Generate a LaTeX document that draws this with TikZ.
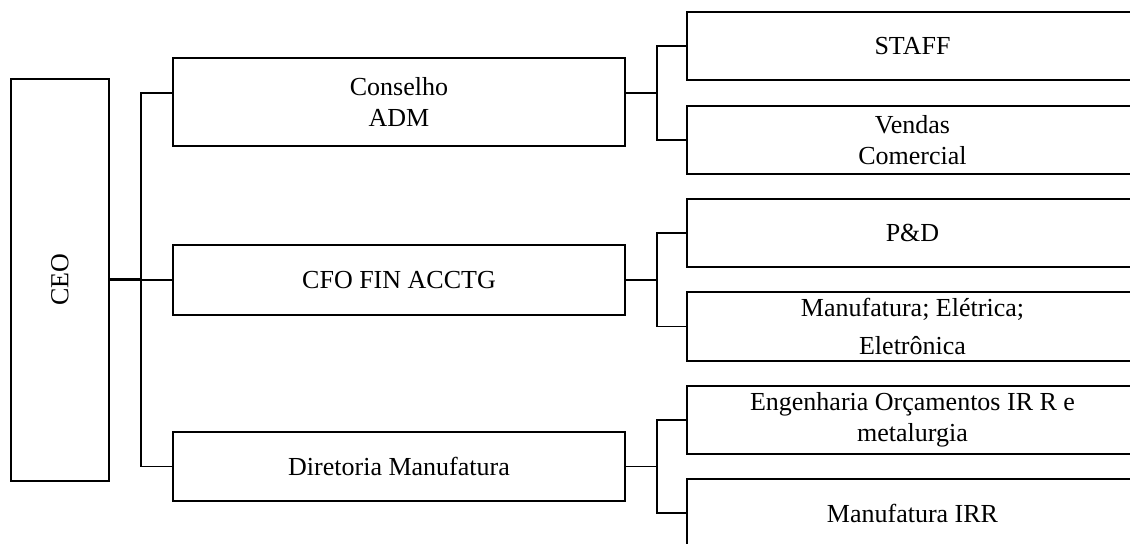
\documentclass[tikz,border=0pt]{standalone}
\usepackage{fontspec}
\setmainfont{Liberation Serif}
\usetikzlibrary{positioning, calc}
\tikzset{
  caixa/.style = {draw=black, fill=white, line width=1pt, inner sep=0pt,
    align=center, font=\fontsize{13}{15.5}\selectfont},
  meio/.style = {caixa, minimum width=226pt},
  ramo/.style = {caixa, minimum width=225.5pt, minimum height=34pt},
  lig/.style = {draw=black, line width=0.95pt},
  ligf/.style = {draw=black, line width=1.5pt}
}

\begin{document}
\begin{tikzpicture}[x=0.5pt, y=-0.5pt]
  \useasboundingbox (0,0) rectangle (1130,544);

  % CEO
  \node [caixa, rotate=90, minimum width=201pt, minimum height=49pt]
    (ceo) at (60,280) {CEO};

  % segundo nivel
  \node [meio, minimum height=44pt] (cons) at (399,102) {Conselho\\ADM};
  \node [meio, minimum height=35pt] (cfo) at (399,280) {CFO FIN ACCTG};
  \node [meio, minimum height=34.5pt] (dir) at (399,466.5) {Diretoria Manufatura};

  % terceiro nivel
  \node [ramo] (staff) at (912.5,46) {STAFF};
  \node [ramo] (vend) at (912.5,140) {Vendas\\Comercial};
  \node [ramo] (pd) at (912.5,233) {P\&D};
  \node [ramo, minimum height=34.5pt] (manuf) at (912.5,326.5)
    {Manufatura; Elétrica;\\[3.5pt]Eletrônica};
  \node [ramo] (eng) at (912.5,420) {Engenharia Orçamentos IR R e\\metalurgia};
  \node [ramo] (irr) at (912.5,513) {Manufatura IRR};

  % ligacoes do CEO
  \coordinate (b0) at (141,0);
  \draw [ligf] (ceo.south) -- (ceo.south -| b0);
  \draw [lig] ($(cons.west)+(0,-9)$) -| (b0 |- dir.west) -- (dir.west);
  \draw [lig] (b0 |- cfo.west) -- (cfo.west);

  % ligacoes do segundo nivel
  \draw [lig] ($(cons.east)+(0,-9)$) -- ++(31,0) coordinate (j1);
  \draw [lig] (staff.west) -| (j1) |- (vend.west);
  \draw [lig] (cfo.east) -- ++(31,0) coordinate (j2);
  \draw [lig] (pd.west) -| (j2) |- (manuf.west);
  \draw [lig] (dir.east) -- ++(31,0) coordinate (j3);
  \draw [lig] (eng.west) -| (j3) |- (irr.west);
\end{tikzpicture}
\end{document}
